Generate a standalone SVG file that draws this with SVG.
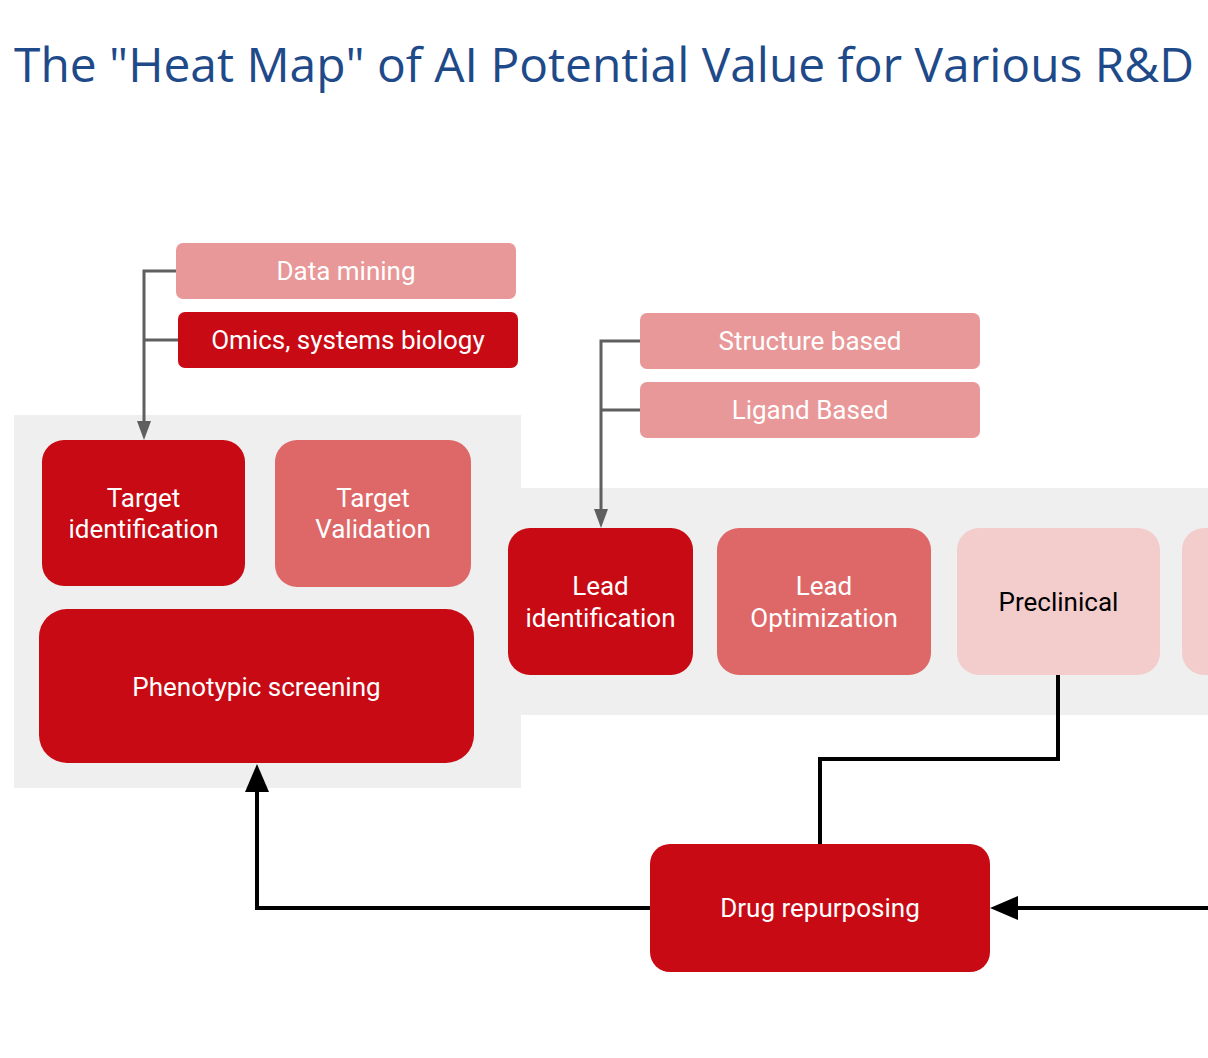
<svg xmlns="http://www.w3.org/2000/svg" width="1208" height="1058" viewBox="0 0 1208 1058">
<defs>
<style>
.t{font-family:Roboto,"Liberation Sans",sans-serif;font-size:26px;fill:#ffffff;text-anchor:middle}
.dk{fill:#000000}
.c1{fill:#c80a14}
.c2{fill:#de6868}
.c3{fill:#e89898}
.c4{fill:#f3cccc}
.g{stroke:#5f5f5f;stroke-width:3;fill:none}
.b{stroke:#000000;stroke-width:4;fill:none}
</style>
<marker id="ag" viewBox="0 0 19 14" refX="0" refY="7" markerWidth="19" markerHeight="14" markerUnits="userSpaceOnUse" orient="auto">
<path d="M0,0 L19,7 L0,14 Z" fill="#5f5f5f"/>
</marker>
<marker id="ab" viewBox="0 0 28 24" refX="0" refY="12" markerWidth="28" markerHeight="24" markerUnits="userSpaceOnUse" orient="auto">
<path d="M0,0 L28,12 L0,24 Z" fill="#000000"/>
</marker>
</defs>
<rect width="1208" height="1058" fill="#ffffff"/>
<text x="14" y="82" font-family="'Open Sans','Noto Sans',sans-serif" font-size="48" fill="#1f4a8a" textLength="1180" lengthAdjust="spacingAndGlyphs">The "Heat Map" of AI Potential Value for Various R&amp;D</text>
<g id="panels">
<rect x="14" y="415" width="507" height="373" fill="#efefef"/>
<rect x="521" y="488" width="687" height="227" fill="#efefef"/>
</g>
<g id="connectors">
<path class="g" d="M176,271 H144 V421" marker-end="url(#ag)"/>
<path class="g" d="M178,340 H144"/>
<path class="g" d="M640,341 H601 V509" marker-end="url(#ag)"/>
<path class="g" d="M640,410 H601"/>
<path class="b" d="M1058,675 V759 H820 V844"/>
<path class="b" d="M1208,908 H1018" marker-end="url(#ab)"/>
<path class="b" d="M650,908 H257 V792" marker-end="url(#ab)"/>
</g>
<g id="n-data-mining"><rect class="c3" x="176" y="243" width="340" height="56" rx="7"/><text class="t" x="346" y="280">Data mining</text></g>
<g id="n-omics"><rect class="c1" x="178" y="312" width="340" height="56" rx="7"/><text class="t" x="348" y="349">Omics, systems biology</text></g>
<g id="n-structure"><rect class="c3" x="640" y="313" width="340" height="56" rx="7"/><text class="t" x="810" y="350">Structure based</text></g>
<g id="n-ligand"><rect class="c3" x="640" y="382" width="340" height="56" rx="7"/><text class="t" x="810" y="419">Ligand Based</text></g>
<g id="n-target-id"><rect class="c1" x="42" y="440" width="203" height="146" rx="22"/><text class="t" x="143.5" y="507">Target</text><text class="t" x="143.5" y="538">identification</text></g>
<g id="n-target-val"><rect class="c2" x="275" y="440" width="196" height="147" rx="22"/><text class="t" x="373" y="507">Target</text><text class="t" x="373" y="538">Validation</text></g>
<g id="n-phenotypic"><rect class="c1" x="39" y="609" width="435" height="154" rx="28"/><text class="t" x="256.5" y="696">Phenotypic screening</text></g>
<g id="n-lead-id"><rect class="c1" x="508" y="528" width="185" height="147" rx="22"/><text class="t" x="600.5" y="595">Lead</text><text class="t" x="600.5" y="627">identification</text></g>
<g id="n-lead-opt"><rect class="c2" x="717" y="528" width="214" height="147" rx="22"/><text class="t" x="824" y="595">Lead</text><text class="t" x="824" y="627">Optimization</text></g>
<g id="n-preclinical"><rect class="c4" x="957" y="528" width="203" height="147" rx="22"/><text class="t dk" x="1058.5" y="611">Preclinical</text></g>
<g id="n-next"><rect class="c4" x="1182" y="528" width="120" height="147" rx="22"/></g>
<g id="n-drug-repurposing"><rect class="c1" x="650" y="844" width="340" height="128" rx="20"/><text class="t" x="820" y="917">Drug repurposing</text></g>
</svg>
